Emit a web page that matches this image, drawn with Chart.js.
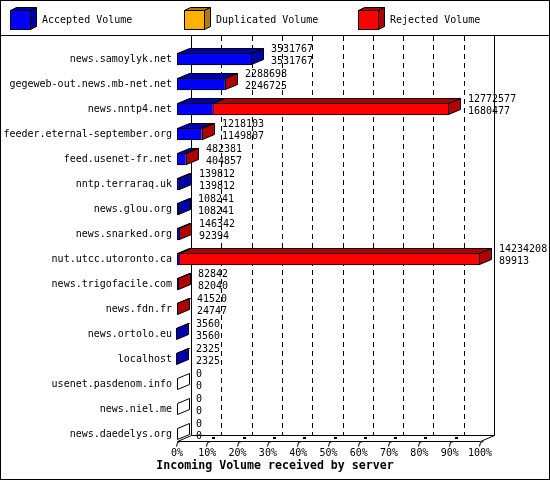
<!DOCTYPE html>
<html>
<head>
<meta charset="utf-8">
<script src="https://cdn.jsdelivr.net/npm/chart.js@4/dist/chart.umd.min.js"></script>
<style>
html,body{margin:0;padding:0;background:#fff;}
canvas{display:block;}
</style>
</head>
<body>
<canvas id="c" width="550" height="480"></canvas>
<script>
const categories = [
  'news.samoylyk.net','gegeweb-out.news.mb-net.net','news.nntp4.net',
  'feeder.eternal-september.org','feed.usenet-fr.net','nntp.terraraq.uk',
  'news.glou.org','news.snarked.org','nut.utcc.utoronto.ca',
  'news.trigofacile.com','news.fdn.fr','news.ortolo.eu','localhost',
  'usenet.pasdenom.info','news.niel.me','news.daedelys.org'
];
const totalValues = [3531767,2288698,12772577,1218103,482381,139812,108241,146342,14234208,82842,41520,3560,2325,0,0,0];
const acceptedValues = [3531767,2246725,1680477,1149807,404857,139812,108241,92394,89913,82040,24747,3560,2325,0,0,0];
const duplicatedValues = [0,0,0,20000,15000,0,0,0,0,0,0,0,0,0,0,0];
const rejectedValues = [0,41973,11092100,48296,62524,0,0,53948,14144295,802,16773,0,0,0,0,0];
const seriesNames = ['Accepted Volume','Duplicated Volume','Rejected Volume'];
const xMax = 14234208;
const xTickLabels = ['0%','10%','20%','30%','40%','50%','60%','70%','80%','90%','100%'];
const titleText = 'Incoming Volume received by server';

const FRONT = ['#0000ff','#ffb000','#ff0000'];
const SHADE = ['#0000a8','#b07c00','#b00000'];
const MONO = '"DejaVu Sans Mono", "Liberation Mono", monospace';
const BDX = 12, BDY = 5;   // bar depth
const WDX = 14, WDY = 6;   // wall depth

function poly(ctx, pts, fill){
  ctx.beginPath();
  ctx.moveTo(pts[0][0], pts[0][1]);
  for (let i=1;i<pts.length;i++) ctx.lineTo(pts[i][0], pts[i][1]);
  ctx.closePath();
  if (fill){ ctx.fillStyle = fill; ctx.fill(); }
  ctx.stroke();
}
function seg(ctx, x1,y1,x2,y2){
  ctx.beginPath(); ctx.moveTo(x1,y1); ctx.lineTo(x2,y2); ctx.stroke();
}

const threeD = {
  id:'threeD',
  beforeDraw(chart){
    const ctx = chart.ctx;
    ctx.save(); ctx.fillStyle='#fff'; ctx.fillRect(0,0,chart.width,chart.height); ctx.restore();
  },
  beforeDatasetsDraw(chart){
    const {ctx, chartArea:a, scales:{x}} = chart;
    const fy = Math.round(a.bottom - 5.5) + 0.5;
    const by = fy - WDY;
    const topY = 36;
    const L = Math.round(a.left) + 0.5;
    const R = Math.round(a.right) + 0.5;
    ctx.save();
    ctx.strokeStyle = '#000'; ctx.lineWidth = 1;
    ctx.setLineDash([5,4]);
    x.ticks.forEach((t,i)=>{
      if (i===0 || i===x.ticks.length-1) return;
      const px = Math.round(x.getPixelForValue(t.value)) + WDX + 0.5;
      seg(ctx, px, topY, px, by);
    });
    ctx.setLineDash([]);
    // back walls
    seg(ctx, L+WDX, topY, L+WDX, by);
    seg(ctx, R+WDX, topY, R+WDX, by);
    // floor
    seg(ctx, L+WDX, by, R+WDX, by);
    seg(ctx, L, fy, R, fy);
    seg(ctx, L, fy, L+WDX, by);
    seg(ctx, R, fy, R+WDX, by);
    // tick stubs
    x.ticks.forEach((t,i)=>{
      const px = Math.round(x.getPixelForValue(t.value)) + 0.5;
      ctx.beginPath();
      ctx.moveTo(px-1, fy+5); ctx.lineTo(px, fy+1); ctx.lineTo(px+3, fy);
      ctx.stroke();
      if (i>0 && i<x.ticks.length-1){
        ctx.fillStyle='#000';
        ctx.fillRect(px+4.5, fy-4.5, 3, 2);
      }
    });
    ctx.restore();
  },
  afterDatasetsDraw(chart){
    const {ctx, scales:{x}} = chart;
    const metas = [0,1,2].map(i=>chart.getDatasetMeta(i));
    const vals = [acceptedValues, duplicatedValues, rejectedValues];
    ctx.save();
    ctx.strokeStyle = '#000'; ctx.lineWidth = 1;
    categories.forEach((c,k)=>{
      let last = -1, endX = null, top=null, bot=null;
      for (let d=0; d<3; d++){
        const el = metas[d].data[k];
        const t = Math.round(el.y - el.height/2) + 0.5;
        const b = Math.round(el.y + el.height/2) - 0.5;
        top = t; bot = b;
        if (vals[d][k] > 0){
          const x0 = Math.round(Math.min(el.base, el.x)) + 0.5;
          const x1 = Math.round(Math.max(el.base, el.x)) - 0.5;
          poly(ctx, [[x0,t],[x1,t],[x1+BDX,t-BDY],[x0+BDX,t-BDY]], SHADE[d]);
          last = d; endX = x1;
        }
      }
      if (last < 0){
        endX = Math.round(x.getPixelForValue(0)) + 0.5;
        poly(ctx, [[endX,top],[endX+BDX,top-BDY],[endX+BDX,bot-BDY],[endX,bot]], '#fff');
      } else {
        poly(ctx, [[endX,top],[endX+BDX,top-BDY],[endX+BDX,bot-BDY],[endX,bot]], SHADE[last]);
      }
      // value labels
      const cy = metas[0].data[k].y;
      const tx = Math.round(x.getPixelForValue(totalValues[k])) + 19;
      ctx.fillStyle = '#000';
      ctx.font = '10px ' + MONO;
      ctx.textAlign = 'left'; ctx.textBaseline = 'middle';
      ctx.fillText(String(totalValues[k]), tx, cy - 10);
      ctx.fillText(String(acceptedValues[k]), tx, cy + 2);
    });
    ctx.restore();
  },
  afterDraw(chart){
    const ctx = chart.ctx;
    ctx.save();
    ctx.strokeStyle = '#000'; ctx.lineWidth = 1;
    // legend
    const lx = [10, 184, 358];
    chart.data.datasets.forEach((ds,i)=>{
      const x0 = lx[i]+0.5, y0 = 10.5, w = 20, h = 19, dx = 6, dy = 3;
      poly(ctx, [[x0,y0],[x0+dx,y0-dy],[x0+w+dx,y0-dy],[x0+w,y0]], SHADE[i]);
      poly(ctx, [[x0+w,y0],[x0+w+dx,y0-dy],[x0+w+dx,y0+h-dy],[x0+w,y0+h]], SHADE[i]);
      ctx.fillStyle = FRONT[i]; ctx.fillRect(x0, y0, w, h); ctx.strokeRect(x0, y0, w, h);
      ctx.fillStyle = '#000';
      ctx.font = '10px ' + MONO;
      ctx.textAlign = 'left'; ctx.textBaseline = 'middle';
      ctx.fillText(ds.label, lx[i] + 32, 20);
    });
    seg(ctx, 0, 35.5, chart.width, 35.5);
    ctx.strokeRect(0.5, 0.5, chart.width-1, chart.height-1);
    ctx.restore();
  }
};

const tickFont = {family: MONO, size: 10};
new Chart(document.getElementById('c').getContext('2d'), {
  type: 'bar',
  data: {
    labels: categories,
    datasets: [
      {label: seriesNames[0], data: acceptedValues, backgroundColor: FRONT[0]},
      {label: seriesNames[1], data: duplicatedValues, backgroundColor: FRONT[1]},
      {label: seriesNames[2], data: rejectedValues, backgroundColor: FRONT[2]}
    ]
  },
  options: {
    indexAxis: 'y',
    responsive: false,
    animation: false,
    devicePixelRatio: 1,
    datasets: {bar: {barThickness: 12, borderColor: '#000', borderWidth: {top:1, bottom:1, left:1, right:0}, borderSkipped: false}},
    layout: {padding: {top: 46.5, left: 0, right: 0, bottom: 0}},
    plugins: {
      legend: {display: false},
      tooltip: {enabled: false},
      title: {display: true, position: 'bottom', text: titleText, color: '#000',
        font: {family: MONO, size: 11.6, weight: 'bold'}, padding: {top: 2, bottom: 7}}
    },
    scales: {
      x: {
        stacked: true, min: 0, max: xMax,
        grid: {display: false, drawTicks: false}, border: {display: false},
        afterBuildTicks: s => { s.ticks = xTickLabels.map((_, i) => ({value: xMax * i / 10})); },
        ticks: {callback: (v, i) => xTickLabels[i], font: tickFont, color: '#000', padding: 1, maxRotation: 0, autoSkip: false},
        afterFit: s => { s.height = 10.6; }
      },
      y: {
        stacked: true,
        grid: {display: false, drawTicks: false}, border: {display: false},
        ticks: {font: tickFont, color: '#000', padding: 5, autoSkip: false},
        afterFit: s => { s.width = 177; }
      },
      y2: {
        type: 'category', position: 'right', display: true,
        grid: {display: false, drawTicks: false}, border: {display: false},
        ticks: {display: false},
        afterFit: s => { s.width = 70; }
      }
    }
  },
  plugins: [threeD]
});
</script>
</body>
</html>
